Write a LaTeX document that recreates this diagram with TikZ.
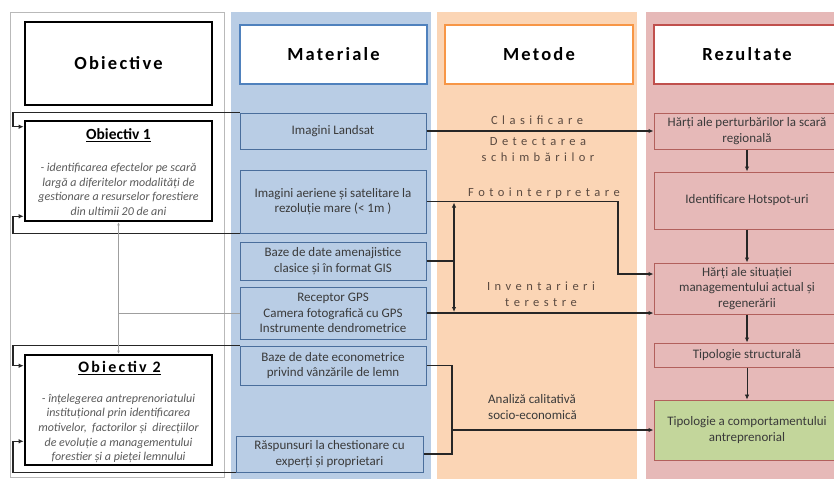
\documentclass[tikz,border=0pt]{standalone}
\usepackage{fontspec}
\setmainfont{Carlito}
\newfontfamily\headfont[LetterSpace=12]{Carlito}
\newfontfamily\metfont[LetterSpace=36]{Carlito}
\newfontfamily\obfont[LetterSpace=14]{Carlito}
\usetikzlibrary{calc}
\usetikzlibrary{arrows.meta}

\definecolor{matfill}{HTML}{B9CDE5}
\definecolor{matline}{HTML}{4A6E9C}
\definecolor{mathead}{HTML}{4F81BD}
\definecolor{metfill}{HTML}{FBD5B5}
\definecolor{methead}{HTML}{F79646}
\definecolor{rezfill}{HTML}{E6B9B8}
\definecolor{rezline}{HTML}{B2605C}
\definecolor{rezhead}{HTML}{C0504D}
\definecolor{verde}{HTML}{C3D69B}
\definecolor{txt}{HTML}{3A3A3A}
\definecolor{obtxt}{HTML}{5A5A5A}
\definecolor{mettxt}{HTML}{5B4A40}

\begin{document}
\begin{tikzpicture}[x=1pt, y=-1pt,
  headbox/.style={draw, fill=white, line width=1.3pt, minimum height=59pt, inner sep=0pt,
    font=\headfont\bfseries\fontsize{18.5}{22}\selectfont},
  objbox/.style={draw=black, fill=white, line width=2.6pt, minimum width=187pt, inner sep=0pt},
  mbox/.style={draw=matline, fill=matfill, line width=1pt, align=center, inner sep=0pt,
    minimum width=186pt, text=txt, font=\fontsize{13}{15.5}\selectfont},
  rbox/.style={draw=rezline, fill=rezfill, line width=1pt, align=center, inner sep=0pt,
    minimum width=186pt, text=txt, font=\fontsize{13}{15.5}\selectfont},
  metlabel/.style={align=center, inner sep=0pt, text=mettxt,
    font=\metfont\fontsize{12.5}{16}\selectfont},
  obtitle/.style={inner sep=0pt, font=\bfseries\fontsize{15.5}{18}\selectfont},
  obtext/.style={align=center, inner sep=0pt, text=obtxt,
    font=\itshape\fontsize{12}{14.6}\selectfont},
  conn/.style={draw=black!85, line width=1.2pt},
  arr/.style={conn, -{Latex[length=5pt,width=4.5pt]}},
  dblarr/.style={conn, {Latex[length=5pt,width=4.5pt]}-{Latex[length=5pt,width=4.5pt]}},
  thinline/.style={draw=gray!75, line width=0.5pt},
  thinarr/.style={thinline, {Latex[length=3pt,width=2.5pt]}-{Latex[length=3pt,width=2.5pt]}}]
  \useasboundingbox (0,0) rectangle (834,479);
  \clip (0,0) rectangle (834,479);

  % columns
  \draw[gray!55, line width=0.6pt, fill=white] (10,12) rectangle (224,477);
  \fill[matfill] (231,12) rectangle (431,479);
  \fill[metfill] (437,12) rectangle (637,479);
  \fill[rezfill] (646,12) rectangle (840,479);

  % headers
  \node[headbox, draw=black, line width=2.6pt, minimum width=187pt, minimum height=83pt] (hobj) at (118.5,63.5) {Obiective};
  \node[headbox, draw=mathead, minimum width=187pt] (hmat) at (333.5,54.5) {Materiale};
  \node[headbox, draw=methead, minimum width=188pt] (hmet) at (539,54.5) {Metode};
  \node[headbox, draw=rezhead, minimum width=186pt] (hrez) at (747,54.5) {Rezultate};

  % obiective
  \node[objbox, minimum height=100pt] (ob1) at (118.5,171) {};
  \node[obtitle] (ob1t) at (118.5,135) {\underline{Obiectiv 1}};
  \node[obtext] (ob1x) at (118.5,189.5) {- identificarea efectelor pe scară\\largă a diferitelor modalități de\\gestionare a resurselor forestiere\\din ultimii 20 de ani};
  \node[objbox, minimum height=110pt] (ob2) at (118.5,410) {};
  \node[obtitle, font=\obfont\bfseries\fontsize{16}{18}\selectfont] (ob2t) at (119.5,368) {\underline{Obiectiv 2}};
  \node[obtext] (ob2x) at (118.5,428.5) {- înțelegerea antreprenoriatului\\instituțional prin identificarea\\motivelor,\ \ factorilor și\ \ direcțiilor\\de evoluție a managementului\\forestier și a pieței lemnului};

  % materiale
  \node[mbox, minimum height=36pt] (landsat) at (333,131) {Imagini Landsat};
  \node[mbox, minimum height=63pt] (aeriene) at (333,201.5) {Imagini aeriene și satelitare la\\rezoluție mare (< 1m )};
  \node[mbox, minimum height=38pt] (baze) at (333,261) {Baze de date amenajistice\\clasice și în format GIS};
  \node[mbox, minimum height=52pt] (receptor) at (333,313) {Receptor GPS\\Camera fotografică cu GPS\\Instrumente dendrometrice};
  \node[mbox, minimum height=39pt] (econ) at (333,365.5) {Baze de date econometrice\\privind vânzările de lemn};
  \node[mbox, minimum height=36pt, minimum width=187pt] (rasp) at (329.5,454) {Răspunsuri la chestionare cu\\experți și proprietari};

  % metode
  \node[metlabel] (clasif) at (537,120) {Clasificare};
  \node[metlabel] (detect) at (538,149.5) {Detectarea\\schimbărilor};
  \node[metlabel] (foto) at (544,193) {Fotointerpretare};
  \node[metlabel] (invent) at (541,294) {Inventarieri\\terestre};
  \node[align=left, inner sep=0pt, text=txt, font=\fontsize{13}{15.5}\selectfont, anchor=west] (analiza) at (488,407) {Analiză calitativă\\socio-economică};

  % rezultate
  \node[rbox, minimum height=36pt] (perturb) at (747,131) {Hărți ale perturbărilor la scară\\regională};
  \node[rbox, minimum height=57pt] (hotspot) at (747,200.5) {Identificare Hotspot-uri};
  \node[rbox, minimum height=51pt] (situatie) at (747,288.5) {Hărți ale situației\\managementului actual și\\regenerării};
  \node[rbox, minimum height=24pt] (tipstr) at (747,355) {Tipologie structurală};
  \node[rbox, fill=verde, minimum height=60pt] (comport) at (747,430) {Tipologie a comportamentului\\antreprenorial};

  \coordinate (lx) at (13,0);
  \coordinate (vx) at (454,0);
  \coordinate (jx) at (452,0);
  \coordinate (fx) at (618,274);
  \coordinate (ob1a) at ($(ob1.north west)+(0,7)$);
  \coordinate (ob1b) at ($(ob1.south west)+(0,-6)$);
  \coordinate (ob2a) at ($(ob2.north west)+(0,12)$);
  \coordinate (ob2b) at ($(ob2.south west)+(0,-25)$);

  % legaturi spre obiective
  \draw[arr] (landsat.north west) -| (lx |- ob1a) -- (ob1a);
  \draw[arr] (aeriene.south west) -| (lx |- ob1b) -- (ob1b);
  \draw[arr] (econ.north west) -| (lx |- ob2a) -- (ob2a);
  \draw[arr] (rasp.south west) -| (lx |- ob2b) -- (ob2b);
  \draw[thinarr] (ob1.south) -- (ob2.north);
  \draw[thinline] (receptor.west) -- (receptor.west -| ob1.south);

  % legaturi spre rezultate
  \draw[arr] (landsat) -- (perturb);
  \draw[arr] (aeriene.east) -| (fx) -- (fx -| situatie.west);
  \draw[arr] (receptor.east) -- (receptor.east -| situatie.west);
  \draw[conn] (baze.east) -- (baze.east -| vx);
  \draw[dblarr, shorten <=1pt, shorten >=1pt] (aeriene.east -| vx) -- (receptor.east -| vx);
  \draw[conn] (econ.east) -| (rasp.east -| jx) -- (rasp.east);
  \draw[arr] (jx |- comport.west) -- (comport.west);

  \draw[arr] (perturb) -- (hotspot);
  \draw[arr] (hotspot) -- (situatie);
  \draw[arr] (situatie) -- (tipstr);
  \draw[arr, line width=0.7pt] (tipstr) -- (comport);
\end{tikzpicture}
\end{document}
